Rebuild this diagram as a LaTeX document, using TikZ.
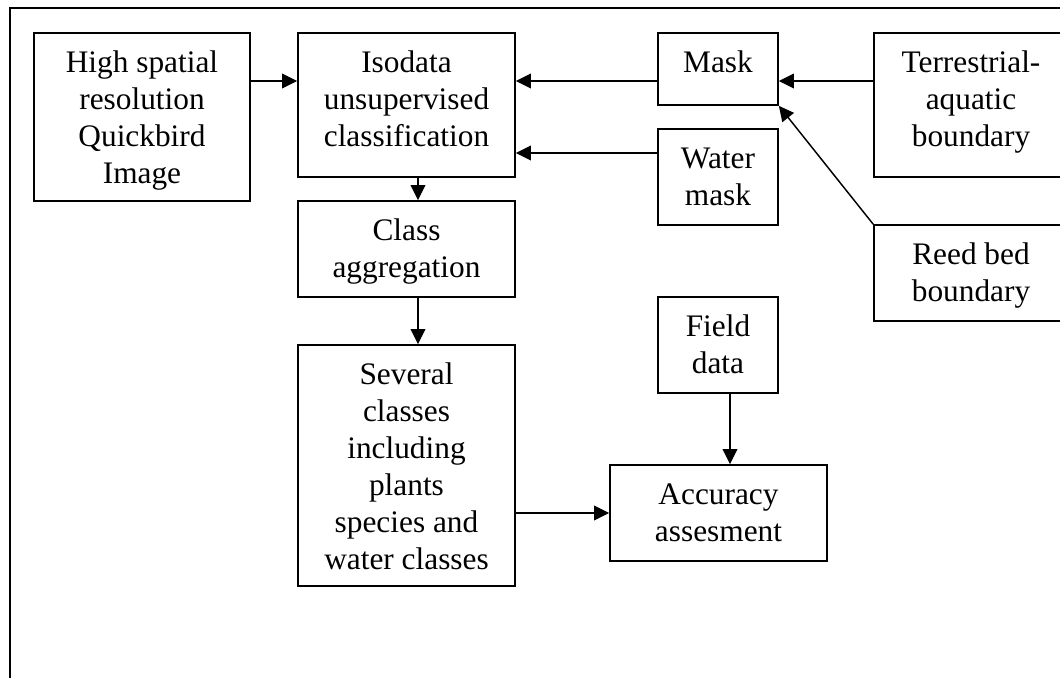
\documentclass[tikz,border=0pt]{standalone}
\usepackage{fontspec}
\setmainfont{Liberation Serif}
\usetikzlibrary{arrows.meta,calc}
\begin{document}
\begin{tikzpicture}[x=0.75pt,y=-0.75pt,
  box/.style={draw,line width=1.25pt,inner sep=0pt,rectangle},
  txt/.style={inner sep=0pt,align=center,anchor=base,font=\fontsize{23.5}{27.75}\selectfont},
  arr/.style={line width=1.1pt,-{Triangle[length=11.25pt,width=11pt]}}]
\useasboundingbox (0,0) rectangle (1060,678);
\clip (0,0) rectangle (1060,678);
\draw[line width=1.5pt] (9.5,8) rectangle (1090,700);
% boxes
\node[box,minimum width=216*0.75pt,minimum height=168*0.75pt] (hs) at (142,117) {};
\node[box,minimum width=217*0.75pt,minimum height=144*0.75pt] (iso) at (406.5,105) {};
\node[box,minimum width=217*0.75pt,minimum height=96*0.75pt] (cls) at (406.5,249) {};
\node[box,minimum width=217*0.75pt,minimum height=241*0.75pt] (sev) at (406.5,465.5) {};
\node[box,minimum width=120*0.75pt,minimum height=72*0.75pt] (mask) at (718,69) {};
\node[box,minimum width=120*0.75pt,minimum height=96*0.75pt] (wm) at (718,177) {};
\node[box,minimum width=194*0.75pt,minimum height=144*0.75pt] (ter) at (971,105) {};
\node[box,minimum width=194*0.75pt,minimum height=96*0.75pt] (reed) at (971,273) {};
\node[box,minimum width=120*0.75pt,minimum height=96*0.75pt] (field) at (718,345) {};
\node[box,minimum width=217*0.75pt,minimum height=96*0.75pt] (acc) at (718.5,513) {};
% texts (anchor base = last line baseline)
\node[txt] (hst) at ($(hs.north)+(0,151.5)$) {High spatial\\resolution\\Quickbird\\Image};
\node[txt] (isot) at ($(iso.north)+(0,114.5)$) {Isodata\\unsupervised\\classification};
\node[txt] (clst) at ($(cls.north)+(0,77.5)$) {Class\\aggregation};
\node[txt] (sevt) at ($(sev.north)+(0,225.5)$) {Several\\classes\\including\\plants\\species and\\water classes};
\node[txt] (maskt) at ($(mask.north)+(0,40.5)$) {Mask};
\node[txt] (wmt) at ($(wm.north)+(0,77.5)$) {Water\\mask};
\node[txt] (tert) at ($(ter.north)+(0,114.5)$) {Terrestrial-\\aquatic\\boundary};
\node[txt] (reedt) at ($(reed.north)+(0,77.5)$) {Reed bed\\boundary};
\node[txt] (fieldt) at ($(field.north)+(0,77.5)$) {Field\\data};
\node[txt] (acct) at ($(acc.north)+(0,77.5)$) {Accuracy\\assesment};
% connectors
\coordinate (y81) at (0,81);
\coordinate (y153) at (0,153);
\draw[arr] (hs.east |- y81) -- (iso.west |- y81);
\draw[arr] (mask.west |- y81) -- (iso.east |- y81);
\draw[arr] (wm.west |- y153) -- (iso.east |- y153);
\draw[arr] (ter.west |- y81) -- (mask.east |- y81);
\draw[arr] (reed.north west) -- (mask.south east);
\draw[arr] ($(iso.south)+(11.5,0)$) -- ($(cls.north)+(11.5,0)$);
\draw[arr] ($(cls.south)+(11.5,0)$) -- ($(sev.north)+(11.5,0)$);
\draw[arr] (sev.east |- acc.west) -- (acc.west);
\draw[arr] ($(field.south)+(12,0)$) -- ($(acc.north)+(11.5,0)$);
\end{tikzpicture}
\end{document}
